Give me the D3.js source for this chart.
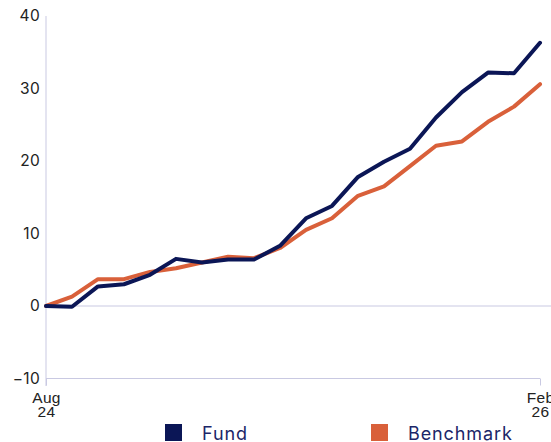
<!DOCTYPE html>
<html><head><meta charset="utf-8">
<script src="https://cdn.jsdelivr.net/npm/d3@7"></script>
<style>body{margin:0;background:#fff;} svg{display:block;font-family:Inter,"Open Sans",sans-serif;}</style>
</head><body>
<svg id="c" width="551" height="442"></svg>
<script>
const periods = d3.range(20);
const xLabels = [["Aug","24"],["Feb","26"]];
const fund = [0,-0.1,2.7,3.0,4.3,6.5,6.0,6.4,6.4,8.3,12.1,13.8,17.8,19.9,21.7,26.0,29.5,32.2,32.1,36.3];
const benchmark = [0,1.3,3.7,3.7,4.7,5.2,6.0,6.8,6.6,8.0,10.5,12.1,15.2,16.5,19.3,22.1,22.7,25.4,27.5,30.6];
const yTicks = [-10,0,10,20,30,40];
const seriesNames = ["Fund","Benchmark"];
const colors = ["#0b1656","#d9603a"];

const svg = d3.select("#c");
const x = d3.scaleLinear().domain([0,19]).range([46,540]);
const y = d3.scaleLinear().domain([-10,40]).range([378.5,16]);
const grid = "#c9c9e2";

// y axis
const ya = svg.append("g").attr("transform","translate(46,0)")
  .call(d3.axisLeft(y).tickValues(yTicks).tickSize(0).tickPadding(6).tickFormat(d=>d<0?"\u2212"+Math.abs(d):d));
ya.select(".domain").remove();
ya.selectAll("text").attr("font-size",15.5).attr("fill","#222").attr("letter-spacing",0.3).attr("font-family","Inter,'Open Sans',sans-serif");
svg.append("line").attr("x1",46).attr("x2",46).attr("y1",y(40)).attr("y2",386).attr("stroke",grid).attr("stroke-width",1);

// zero line
svg.append("line").attr("x1",46).attr("x2",551).attr("y1",y(0)).attr("y2",y(0)).attr("stroke",grid);
// x axis
const xa = svg.append("g").attr("transform",`translate(0,${y(-10)})`)
  .call(d3.axisBottom(x).tickValues([0,19]).tickSize(7).tickFormat(""));
xa.select(".domain").attr("stroke",grid).attr("d",`M46,0H540`);
xa.selectAll(".tick line").attr("stroke",grid);
xa.selectAll(".tick").each(function(d,i){
  const t = d3.select(this).append("text").attr("fill","#222").attr("font-size",15.5).attr("text-anchor","middle").attr("letter-spacing",0.3);
  t.append("tspan").attr("x",0).attr("y",24).text(xLabels[i][0]);
  t.append("tspan").attr("x",0).attr("y",38.5).text(xLabels[i][1]);
});

// lines
const line = d3.line().x((d,i)=>x(periods[i])).y(d=>y(d));
[benchmark,fund].forEach((s,k)=>{
  const c = k===0?colors[1]:colors[0];
  svg.append("path").datum(s).attr("d",line).attr("fill","none").attr("stroke",c)
    .attr("stroke-width",4).attr("stroke-linejoin","round").attr("stroke-linecap","round");
});

// legend
const lx = [165,371];
seriesNames.forEach((n,i)=>{
  svg.append("rect").attr("x",lx[i]).attr("y",424).attr("width",17).attr("height",17).attr("fill",colors[i]);
  svg.append("text").attr("x",lx[i]+37).attr("y",440).attr("font-size",18).attr("letter-spacing",0.9).attr("fill","#1b2668").text(n);
});
</script>
</body></html>
